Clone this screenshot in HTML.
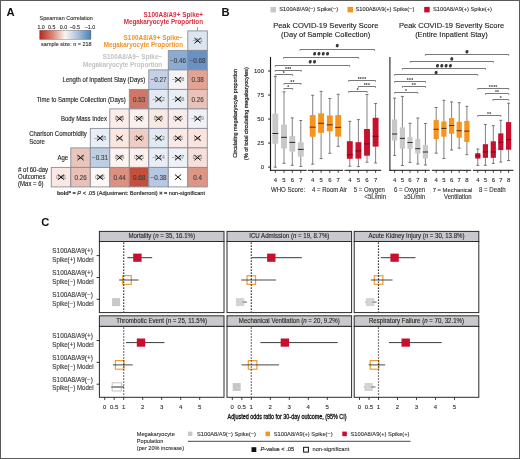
<!DOCTYPE html>
<html><head><meta charset="utf-8"><style>
html,body{margin:0;padding:0;background:#fff;}
body{width:520px;height:459px;overflow:hidden;}
svg{display:block;font-family:"Liberation Sans", sans-serif;will-change:transform;}
</style></head><body>
<svg width="520" height="459" viewBox="0 0 520 459">
<rect x="0" y="0" width="520" height="459" fill="#fff"/>
<rect x="0.5" y="0.5" width="519" height="458" fill="none" stroke="#5a5a5a" stroke-width="1" />
<text x="6.4" y="15.9" font-size="11.3" fill="#111" text-anchor="start" font-weight="bold" >A</text>
<text x="221.5" y="16.3" font-size="11.2" fill="#111" text-anchor="start" font-weight="bold" >B</text>
<text x="41.2" y="225.8" font-size="11.2" fill="#111" text-anchor="start" font-weight="bold" >C</text>
<text x="66.2" y="20.0" font-size="5.83" fill="#333" text-anchor="middle" font-weight="normal" stroke="#333" stroke-width="0.12"  textLength="53.32" lengthAdjust="spacingAndGlyphs">Spearman Correlation</text>
<text x="41.1" y="28.5" font-size="5.19" fill="#333" text-anchor="middle" font-weight="normal" stroke="#333" stroke-width="0.12"  textLength="7.37" lengthAdjust="spacingAndGlyphs">1.0</text>
<text x="51.75" y="28.5" font-size="5.19" fill="#333" text-anchor="middle" font-weight="normal" stroke="#333" stroke-width="0.12"  textLength="7.37" lengthAdjust="spacingAndGlyphs">0.5</text>
<text x="63.45" y="28.5" font-size="5.19" fill="#333" text-anchor="middle" font-weight="normal" stroke="#333" stroke-width="0.12"  textLength="7.37" lengthAdjust="spacingAndGlyphs">0.0</text>
<text x="74.75" y="28.5" font-size="5.19" fill="#333" text-anchor="middle" font-weight="normal" stroke="#333" stroke-width="0.12"  textLength="10.46" lengthAdjust="spacingAndGlyphs">−0.5</text>
<text x="90.0" y="28.5" font-size="5.19" fill="#333" text-anchor="middle" font-weight="normal" stroke="#333" stroke-width="0.12"  textLength="10.46" lengthAdjust="spacingAndGlyphs">−1.0</text>
<defs><linearGradient id="cb" x1="0" x2="1" y1="0" y2="0"><stop offset="0" stop-color="#b5281f"/><stop offset="0.25" stop-color="#db8775"/><stop offset="0.5" stop-color="#faf5f2"/><stop offset="0.75" stop-color="#a6bfdc"/><stop offset="1" stop-color="#4a80b8"/></linearGradient></defs>
<rect x="39.7" y="30.3" width="51.2" height="9.1" fill="url(#cb)" stroke="rgba(40,30,30,0.45)" stroke-width="0.6" />
<text x="66.4" y="46.3" font-size="5.89" fill="#333" text-anchor="middle" font-weight="normal" stroke="#333" stroke-width="0.12"  textLength="50.60" lengthAdjust="spacingAndGlyphs">sample size: n = 218</text>
<text x="203" y="16.8" font-size="6.85" fill="#db2c3e" text-anchor="end" font-weight="bold"  textLength="59.42" lengthAdjust="spacingAndGlyphs">S100A8/A9+ Spike+</text>
<text x="203" y="24.1" font-size="6.72" fill="#db2c3e" text-anchor="end" font-weight="bold"  textLength="79.22" lengthAdjust="spacingAndGlyphs">Megakaryocyte Proportion</text>
<text x="183" y="39.5" font-size="6.85" fill="#f39325" text-anchor="end" font-weight="bold"  textLength="59.42" lengthAdjust="spacingAndGlyphs">S100A8/A9+ Spike−</text>
<text x="183" y="46.9" font-size="6.72" fill="#f39325" text-anchor="end" font-weight="bold"  textLength="79.22" lengthAdjust="spacingAndGlyphs">Megakaryocyte Proportion</text>
<text x="162.2" y="58.6" font-size="6.85" fill="#c2c2c2" text-anchor="end" font-weight="bold"  textLength="59.42" lengthAdjust="spacingAndGlyphs">S100A8/A9− Spike−</text>
<text x="162.2" y="66.6" font-size="6.72" fill="#c2c2c2" text-anchor="end" font-weight="bold"  textLength="79.22" lengthAdjust="spacingAndGlyphs">Megakaryocyte Proportion</text>
<line x1="197.5" y1="27" x2="197.5" y2="30.5" stroke="#888" stroke-width="0.8" />
<text x="145.3" y="82.2" font-size="6.42" fill="#222" text-anchor="end" font-weight="normal" stroke="#222" stroke-width="0.12"  textLength="82.72" lengthAdjust="spacingAndGlyphs">Length of Inpatient Stay (Days)</text>
<text x="125.8" y="101.5" font-size="6.42" fill="#222" text-anchor="end" font-weight="normal" stroke="#222" stroke-width="0.12"  textLength="89.14" lengthAdjust="spacingAndGlyphs">Time to Sample Collection (Days)</text>
<text x="106.9" y="121.1" font-size="6.42" fill="#222" text-anchor="end" font-weight="normal" stroke="#222" stroke-width="0.12"  textLength="46.02" lengthAdjust="spacingAndGlyphs">Body Mass Index</text>
<text x="29.2" y="136.3" font-size="6.42" fill="#222" text-anchor="start" font-weight="normal" stroke="#222" stroke-width="0.12"  textLength="57.69" lengthAdjust="spacingAndGlyphs">Charlson Comorbidity</text>
<text x="29.2" y="144.0" font-size="6.42" fill="#222" text-anchor="start" font-weight="normal" stroke="#222" stroke-width="0.12"  textLength="15.67" lengthAdjust="spacingAndGlyphs">Score</text>
<text x="68.1" y="159.9" font-size="6.42" fill="#222" text-anchor="end" font-weight="normal" stroke="#222" stroke-width="0.12"  textLength="10.68" lengthAdjust="spacingAndGlyphs">Age</text>
<text x="18.1" y="171.7" font-size="6.42" fill="#222" text-anchor="start" font-weight="normal" stroke="#222" stroke-width="0.12"  textLength="30.02" lengthAdjust="spacingAndGlyphs"># of 60-day</text>
<text x="18.1" y="179.0" font-size="6.42" fill="#222" text-anchor="start" font-weight="normal" stroke="#222" stroke-width="0.12"  textLength="27.34" lengthAdjust="spacingAndGlyphs">Outcomes</text>
<text x="18.1" y="185.9" font-size="6.42" fill="#222" text-anchor="start" font-weight="normal" stroke="#222" stroke-width="0.12"  textLength="25.51" lengthAdjust="spacingAndGlyphs">(Max = 6)</text>
<rect x="187.8" y="30.9" width="19.5" height="19.5" fill="#dce5f0" stroke="#8a8d98" stroke-width="0.9" />
<rect x="168.3" y="50.4" width="19.5" height="19.5" fill="#8babd3" stroke="#8a8d98" stroke-width="0.9" />
<rect x="187.8" y="50.4" width="19.5" height="19.5" fill="#6991c3" stroke="#8a8d98" stroke-width="0.9" />
<rect x="148.8" y="69.9" width="19.5" height="19.5" fill="#c3d2e6" stroke="#8a8d98" stroke-width="0.9" />
<rect x="168.3" y="69.9" width="19.5" height="19.5" fill="#f4f2f4" stroke="#8a8d98" stroke-width="0.9" />
<rect x="187.8" y="69.9" width="19.5" height="19.5" fill="#e3a394" stroke="#8a8d98" stroke-width="0.9" />
<rect x="129.3" y="89.4" width="19.5" height="19.5" fill="#ce7767" stroke="#8a8d98" stroke-width="0.9" />
<rect x="148.8" y="89.4" width="19.5" height="19.5" fill="#e2e9f3" stroke="#8a8d98" stroke-width="0.9" />
<rect x="168.3" y="89.4" width="19.5" height="19.5" fill="#e9eef5" stroke="#8a8d98" stroke-width="0.9" />
<rect x="187.8" y="89.4" width="19.5" height="19.5" fill="#eac2b7" stroke="#8a8d98" stroke-width="0.9" />
<rect x="109.8" y="108.9" width="19.5" height="19.5" fill="#fbede9" stroke="#8a8d98" stroke-width="0.9" />
<rect x="129.3" y="108.9" width="19.5" height="19.5" fill="#fcf1ee" stroke="#8a8d98" stroke-width="0.9" />
<rect x="148.8" y="108.9" width="19.5" height="19.5" fill="#fae8e3" stroke="#8a8d98" stroke-width="0.9" />
<rect x="168.3" y="108.9" width="19.5" height="19.5" fill="#f9ecea" stroke="#8a8d98" stroke-width="0.9" />
<rect x="187.8" y="108.9" width="19.5" height="19.5" fill="#eff1f7" stroke="#8a8d98" stroke-width="0.9" />
<rect x="90.3" y="128.4" width="19.5" height="19.5" fill="#e9eef6" stroke="#8a8d98" stroke-width="0.9" />
<rect x="109.8" y="128.4" width="19.5" height="19.5" fill="#fbe6e0" stroke="#8a8d98" stroke-width="0.9" />
<rect x="129.3" y="128.4" width="19.5" height="19.5" fill="#f0cdc4" stroke="#8a8d98" stroke-width="0.9" />
<rect x="148.8" y="128.4" width="19.5" height="19.5" fill="#e1e9f3" stroke="#8a8d98" stroke-width="0.9" />
<rect x="168.3" y="128.4" width="19.5" height="19.5" fill="#fbe9e5" stroke="#8a8d98" stroke-width="0.9" />
<rect x="187.8" y="128.4" width="19.5" height="19.5" fill="#fae4de" stroke="#8a8d98" stroke-width="0.9" />
<rect x="70.8" y="147.9" width="19.5" height="19.5" fill="#eac5bc" stroke="#8a8d98" stroke-width="0.9" />
<rect x="90.3" y="147.9" width="19.5" height="19.5" fill="#becfe4" stroke="#8a8d98" stroke-width="0.9" />
<rect x="109.8" y="147.9" width="19.5" height="19.5" fill="#fdf4f2" stroke="#8a8d98" stroke-width="0.9" />
<rect x="129.3" y="147.9" width="19.5" height="19.5" fill="#fbf0ec" stroke="#8a8d98" stroke-width="0.9" />
<rect x="148.8" y="147.9" width="19.5" height="19.5" fill="#e9eef6" stroke="#8a8d98" stroke-width="0.9" />
<rect x="168.3" y="147.9" width="19.5" height="19.5" fill="#eef2f8" stroke="#8a8d98" stroke-width="0.9" />
<rect x="187.8" y="147.9" width="19.5" height="19.5" fill="#f8e0da" stroke="#8a8d98" stroke-width="0.9" />
<rect x="51.3" y="167.4" width="19.5" height="19.5" fill="#fbe8e4" stroke="#8a8d98" stroke-width="0.9" />
<rect x="70.8" y="167.4" width="19.5" height="19.5" fill="#eac1b6" stroke="#8a8d98" stroke-width="0.9" />
<rect x="90.3" y="167.4" width="19.5" height="19.5" fill="#fdf6f4" stroke="#8a8d98" stroke-width="0.9" />
<rect x="109.8" y="167.4" width="19.5" height="19.5" fill="#dd9080" stroke="#8a8d98" stroke-width="0.9" />
<rect x="129.3" y="167.4" width="19.5" height="19.5" fill="#c34f3d" stroke="#8a8d98" stroke-width="0.9" />
<rect x="148.8" y="167.4" width="19.5" height="19.5" fill="#b7c9e2" stroke="#8a8d98" stroke-width="0.9" />
<rect x="168.3" y="167.4" width="19.5" height="19.5" fill="#ffffff" stroke="#8a8d98" stroke-width="0.9" />
<rect x="187.8" y="167.4" width="19.5" height="19.5" fill="#de9684" stroke="#8a8d98" stroke-width="0.9" />
<text x="197.55" y="42.45" font-size="5.35" fill="#888" text-anchor="middle" font-weight="normal" stroke="#888" stroke-width="0.12"  textLength="9.87" lengthAdjust="spacingAndGlyphs">−0.1</text>
<line x1="194.45" y1="38.05" x2="200.65" y2="43.25" stroke="#111" stroke-width="1.0" />
<line x1="194.45" y1="43.25" x2="200.65" y2="38.05" stroke="#111" stroke-width="1.0" />
<text x="178.05" y="62.75" font-size="6.3" fill="#404040" text-anchor="middle" font-weight="normal" stroke="#404040" stroke-width="0.12" >−0.46</text>
<text x="197.55" y="62.75" font-size="6.3" fill="#404040" text-anchor="middle" font-weight="normal" stroke="#404040" stroke-width="0.12" >−0.68</text>
<text x="158.55" y="82.25" font-size="6.3" fill="#404040" text-anchor="middle" font-weight="normal" stroke="#404040" stroke-width="0.12" >−0.27</text>
<text x="178.05" y="81.45" font-size="5.35" fill="#888" text-anchor="middle" font-weight="normal" stroke="#888" stroke-width="0.12"  textLength="12.65" lengthAdjust="spacingAndGlyphs">−0.08</text>
<line x1="174.95" y1="77.05" x2="181.15" y2="82.25" stroke="#111" stroke-width="1.0" />
<line x1="174.95" y1="82.25" x2="181.15" y2="77.05" stroke="#111" stroke-width="1.0" />
<text x="197.55" y="82.25" font-size="6.3" fill="#404040" text-anchor="middle" font-weight="normal" stroke="#404040" stroke-width="0.12" >0.38</text>
<text x="139.05" y="101.75" font-size="6.3" fill="#404040" text-anchor="middle" font-weight="normal" stroke="#404040" stroke-width="0.12" >0.53</text>
<text x="158.55" y="100.95" font-size="5.35" fill="#888" text-anchor="middle" font-weight="normal" stroke="#888" stroke-width="0.12"  textLength="12.65" lengthAdjust="spacingAndGlyphs">−0.12</text>
<line x1="155.45" y1="96.55" x2="161.65" y2="101.75" stroke="#111" stroke-width="1.0" />
<line x1="155.45" y1="101.75" x2="161.65" y2="96.55" stroke="#111" stroke-width="1.0" />
<text x="178.05" y="100.95" font-size="5.35" fill="#888" text-anchor="middle" font-weight="normal" stroke="#888" stroke-width="0.12"  textLength="12.65" lengthAdjust="spacingAndGlyphs">−0.08</text>
<line x1="174.95" y1="96.55" x2="181.15" y2="101.75" stroke="#111" stroke-width="1.0" />
<line x1="174.95" y1="101.75" x2="181.15" y2="96.55" stroke="#111" stroke-width="1.0" />
<text x="197.55" y="101.75" font-size="6.3" fill="#404040" text-anchor="middle" font-weight="normal" stroke="#404040" stroke-width="0.12" >0.26</text>
<text x="119.55" y="120.45" font-size="5.35" fill="#888" text-anchor="middle" font-weight="normal" stroke="#888" stroke-width="0.12"  textLength="9.73" lengthAdjust="spacingAndGlyphs">0.06</text>
<line x1="116.45" y1="116.05" x2="122.65" y2="121.25" stroke="#111" stroke-width="1.0" />
<line x1="116.45" y1="121.25" x2="122.65" y2="116.05" stroke="#111" stroke-width="1.0" />
<text x="139.05" y="120.45" font-size="5.35" fill="#888" text-anchor="middle" font-weight="normal" stroke="#888" stroke-width="0.12"  textLength="9.73" lengthAdjust="spacingAndGlyphs">0.04</text>
<line x1="135.95" y1="116.05" x2="142.15" y2="121.25" stroke="#111" stroke-width="1.0" />
<line x1="135.95" y1="121.25" x2="142.15" y2="116.05" stroke="#111" stroke-width="1.0" />
<text x="158.55" y="120.45" font-size="5.35" fill="#888" text-anchor="middle" font-weight="normal" stroke="#888" stroke-width="0.12"  textLength="9.73" lengthAdjust="spacingAndGlyphs">0.09</text>
<line x1="155.45" y1="116.05" x2="161.65" y2="121.25" stroke="#111" stroke-width="1.0" />
<line x1="155.45" y1="121.25" x2="161.65" y2="116.05" stroke="#111" stroke-width="1.0" />
<text x="178.05" y="120.45" font-size="5.35" fill="#888" text-anchor="middle" font-weight="normal" stroke="#888" stroke-width="0.12"  textLength="9.73" lengthAdjust="spacingAndGlyphs">0.06</text>
<line x1="174.95" y1="116.05" x2="181.15" y2="121.25" stroke="#111" stroke-width="1.0" />
<line x1="174.95" y1="121.25" x2="181.15" y2="116.05" stroke="#111" stroke-width="1.0" />
<text x="197.55" y="120.45" font-size="5.35" fill="#888" text-anchor="middle" font-weight="normal" stroke="#888" stroke-width="0.12"  textLength="12.65" lengthAdjust="spacingAndGlyphs">−0.09</text>
<line x1="194.45" y1="116.05" x2="200.65" y2="121.25" stroke="#111" stroke-width="1.0" />
<line x1="194.45" y1="121.25" x2="200.65" y2="116.05" stroke="#111" stroke-width="1.0" />
<text x="100.05" y="139.95" font-size="5.35" fill="#888" text-anchor="middle" font-weight="normal" stroke="#888" stroke-width="0.12"  textLength="12.65" lengthAdjust="spacingAndGlyphs">−0.05</text>
<line x1="96.95" y1="135.55" x2="103.15" y2="140.75" stroke="#111" stroke-width="1.0" />
<line x1="96.95" y1="140.75" x2="103.15" y2="135.55" stroke="#111" stroke-width="1.0" />
<text x="119.55" y="139.95" font-size="5.35" fill="#888" text-anchor="middle" font-weight="normal" stroke="#888" stroke-width="0.12"  textLength="6.95" lengthAdjust="spacingAndGlyphs">0.1</text>
<line x1="116.45" y1="135.55" x2="122.65" y2="140.75" stroke="#111" stroke-width="1.0" />
<line x1="116.45" y1="140.75" x2="122.65" y2="135.55" stroke="#111" stroke-width="1.0" />
<text x="139.05" y="139.95" font-size="5.35" fill="#888" text-anchor="middle" font-weight="normal" stroke="#888" stroke-width="0.12"  textLength="9.73" lengthAdjust="spacingAndGlyphs">0.19</text>
<line x1="135.95" y1="135.55" x2="142.15" y2="140.75" stroke="#111" stroke-width="1.0" />
<line x1="135.95" y1="140.75" x2="142.15" y2="135.55" stroke="#111" stroke-width="1.0" />
<text x="158.55" y="139.95" font-size="5.35" fill="#888" text-anchor="middle" font-weight="normal" stroke="#888" stroke-width="0.12"  textLength="12.65" lengthAdjust="spacingAndGlyphs">−0.12</text>
<line x1="155.45" y1="135.55" x2="161.65" y2="140.75" stroke="#111" stroke-width="1.0" />
<line x1="155.45" y1="140.75" x2="161.65" y2="135.55" stroke="#111" stroke-width="1.0" />
<text x="178.05" y="139.95" font-size="5.35" fill="#888" text-anchor="middle" font-weight="normal" stroke="#888" stroke-width="0.12"  textLength="9.73" lengthAdjust="spacingAndGlyphs">0.08</text>
<line x1="174.95" y1="135.55" x2="181.15" y2="140.75" stroke="#111" stroke-width="1.0" />
<line x1="174.95" y1="140.75" x2="181.15" y2="135.55" stroke="#111" stroke-width="1.0" />
<text x="197.55" y="139.95" font-size="5.35" fill="#888" text-anchor="middle" font-weight="normal" stroke="#888" stroke-width="0.12"  textLength="6.95" lengthAdjust="spacingAndGlyphs">0.1</text>
<line x1="194.45" y1="135.55" x2="200.65" y2="140.75" stroke="#111" stroke-width="1.0" />
<line x1="194.45" y1="140.75" x2="200.65" y2="135.55" stroke="#111" stroke-width="1.0" />
<text x="80.55" y="159.45" font-size="5.35" fill="#888" text-anchor="middle" font-weight="normal" stroke="#888" stroke-width="0.12"  textLength="6.95" lengthAdjust="spacingAndGlyphs">0.2</text>
<line x1="77.45" y1="155.05" x2="83.65" y2="160.25" stroke="#111" stroke-width="1.0" />
<line x1="77.45" y1="160.25" x2="83.65" y2="155.05" stroke="#111" stroke-width="1.0" />
<text x="100.05" y="160.25" font-size="6.3" fill="#404040" text-anchor="middle" font-weight="normal" stroke="#404040" stroke-width="0.12" >−0.31</text>
<text x="119.55" y="159.45" font-size="5.35" fill="#888" text-anchor="middle" font-weight="normal" stroke="#888" stroke-width="0.12"  textLength="9.73" lengthAdjust="spacingAndGlyphs">0.04</text>
<line x1="116.45" y1="155.05" x2="122.65" y2="160.25" stroke="#111" stroke-width="1.0" />
<line x1="116.45" y1="160.25" x2="122.65" y2="155.05" stroke="#111" stroke-width="1.0" />
<text x="139.05" y="159.45" font-size="5.35" fill="#888" text-anchor="middle" font-weight="normal" stroke="#888" stroke-width="0.12"  textLength="9.73" lengthAdjust="spacingAndGlyphs">0.05</text>
<line x1="135.95" y1="155.05" x2="142.15" y2="160.25" stroke="#111" stroke-width="1.0" />
<line x1="135.95" y1="160.25" x2="142.15" y2="155.05" stroke="#111" stroke-width="1.0" />
<text x="158.55" y="159.45" font-size="5.35" fill="#888" text-anchor="middle" font-weight="normal" stroke="#888" stroke-width="0.12"  textLength="12.65" lengthAdjust="spacingAndGlyphs">−0.14</text>
<line x1="155.45" y1="155.05" x2="161.65" y2="160.25" stroke="#111" stroke-width="1.0" />
<line x1="155.45" y1="160.25" x2="161.65" y2="155.05" stroke="#111" stroke-width="1.0" />
<text x="178.05" y="159.45" font-size="5.35" fill="#888" text-anchor="middle" font-weight="normal" stroke="#888" stroke-width="0.12"  textLength="12.65" lengthAdjust="spacingAndGlyphs">−0.07</text>
<line x1="174.95" y1="155.05" x2="181.15" y2="160.25" stroke="#111" stroke-width="1.0" />
<line x1="174.95" y1="160.25" x2="181.15" y2="155.05" stroke="#111" stroke-width="1.0" />
<text x="197.55" y="159.45" font-size="5.35" fill="#888" text-anchor="middle" font-weight="normal" stroke="#888" stroke-width="0.12"  textLength="9.73" lengthAdjust="spacingAndGlyphs">0.13</text>
<line x1="194.45" y1="155.05" x2="200.65" y2="160.25" stroke="#111" stroke-width="1.0" />
<line x1="194.45" y1="160.25" x2="200.65" y2="155.05" stroke="#111" stroke-width="1.0" />
<text x="61.05" y="178.95" font-size="5.35" fill="#888" text-anchor="middle" font-weight="normal" stroke="#888" stroke-width="0.12"  textLength="9.73" lengthAdjust="spacingAndGlyphs">0.06</text>
<line x1="57.95" y1="174.55" x2="64.15" y2="179.75" stroke="#111" stroke-width="1.0" />
<line x1="57.95" y1="179.75" x2="64.15" y2="174.55" stroke="#111" stroke-width="1.0" />
<text x="80.55" y="179.75" font-size="6.3" fill="#404040" text-anchor="middle" font-weight="normal" stroke="#404040" stroke-width="0.12" >0.26</text>
<text x="100.05" y="178.95" font-size="5.35" fill="#888" text-anchor="middle" font-weight="normal" stroke="#888" stroke-width="0.12"  textLength="9.73" lengthAdjust="spacingAndGlyphs">0.06</text>
<line x1="96.95" y1="174.55" x2="103.15" y2="179.75" stroke="#111" stroke-width="1.0" />
<line x1="96.95" y1="179.75" x2="103.15" y2="174.55" stroke="#111" stroke-width="1.0" />
<text x="119.55" y="179.75" font-size="6.3" fill="#404040" text-anchor="middle" font-weight="normal" stroke="#404040" stroke-width="0.12" >0.44</text>
<text x="139.05" y="179.75" font-size="6.3" fill="#404040" text-anchor="middle" font-weight="normal" stroke="#404040" stroke-width="0.12" >0.68</text>
<text x="158.55" y="179.75" font-size="6.3" fill="#404040" text-anchor="middle" font-weight="normal" stroke="#404040" stroke-width="0.12" >−0.38</text>
<line x1="174.95" y1="174.55" x2="181.15" y2="179.75" stroke="#111" stroke-width="1.0" />
<line x1="174.95" y1="179.75" x2="181.15" y2="174.55" stroke="#111" stroke-width="1.0" />
<text x="197.55" y="179.75" font-size="6.3" fill="#404040" text-anchor="middle" font-weight="normal" stroke="#404040" stroke-width="0.12" >0.4</text>
<text x="56.9" y="195.0" font-size="5.62" fill="#333" stroke="#333" stroke-width="0.2"><tspan font-weight="bold">bold*</tspan> = <tspan font-style="italic">P</tspan> &lt; .05 (Adjustment: Bonferroni) <tspan font-weight="bold">×</tspan> = non-significant</text>
<rect x="270.5" y="6.9" width="5.5" height="5.5" fill="#c8c8c8" stroke="none" stroke-width="1" />
<text x="279.3" y="11.2" font-size="6.1" fill="#333" text-anchor="start" font-weight="normal" stroke="#333" stroke-width="0.12"  textLength="58.93" lengthAdjust="spacingAndGlyphs">S100A8/A9(−) Spike(−)</text>
<rect x="347.5" y="6.9" width="5.5" height="5.5" fill="#f7941d" stroke="none" stroke-width="1" />
<text x="355.5" y="11.2" font-size="6.1" fill="#333" text-anchor="start" font-weight="normal" stroke="#333" stroke-width="0.12"  textLength="58.93" lengthAdjust="spacingAndGlyphs">S100A8/A9(+) Spike(−)</text>
<rect x="424.2" y="6.9" width="5.5" height="5.5" fill="#c8102e" stroke="none" stroke-width="1" />
<text x="433.0" y="11.2" font-size="6.1" fill="#333" text-anchor="start" font-weight="normal" stroke="#333" stroke-width="0.12"  textLength="58.93" lengthAdjust="spacingAndGlyphs">S100A8/A9(+) Spike(+)</text>
<text x="325.8" y="28.1" font-size="8.08" fill="#222" text-anchor="middle" font-weight="normal" stroke="#222" stroke-width="0.12"  textLength="105.32" lengthAdjust="spacingAndGlyphs">Peak COVID-19 Severity Score</text>
<text x="325.7" y="37.1" font-size="8.03" fill="#222" text-anchor="middle" font-weight="normal" stroke="#222" stroke-width="0.12"  textLength="89.20" lengthAdjust="spacingAndGlyphs">(Day of Sample Collection)</text>
<text x="451.6" y="28.1" font-size="8.08" fill="#222" text-anchor="middle" font-weight="normal" stroke="#222" stroke-width="0.12"  textLength="105.32" lengthAdjust="spacingAndGlyphs">Peak COVID-19 Severity Score</text>
<text x="451.4" y="37.1" font-size="8.03" fill="#222" text-anchor="middle" font-weight="normal" stroke="#222" stroke-width="0.12"  textLength="72.54" lengthAdjust="spacingAndGlyphs">(Entire Inpatient Stay)</text>
<text transform="translate(237.2,113.4) rotate(-90)" font-size="5.35" fill="#2a2a2a" stroke="#2a2a2a" stroke-width="0.22" text-anchor="middle">Circulating megakaryocyte proportion</text>
<text transform="translate(247.6,113.6) rotate(-90)" font-size="5.4" fill="#2a2a2a" stroke="#2a2a2a" stroke-width="0.22" text-anchor="middle">(% of total circulating megakaryocytes)</text>
<line x1="270.5" y1="56.9" x2="270.5" y2="170.8" stroke="#1a1a1a" stroke-width="1.15" />
<line x1="268" y1="167.1" x2="270.5" y2="167.1" stroke="#111" stroke-width="0.9" />
<text x="264.0" y="169.1" font-size="5.47" fill="#333" text-anchor="end" font-weight="normal" stroke="#333" stroke-width="0.12"  textLength="3.31" lengthAdjust="spacingAndGlyphs">0</text>
<line x1="268" y1="143.07" x2="270.5" y2="143.07" stroke="#111" stroke-width="0.9" />
<text x="264.0" y="145.07" font-size="5.47" fill="#333" text-anchor="end" font-weight="normal" stroke="#333" stroke-width="0.12"  textLength="6.62" lengthAdjust="spacingAndGlyphs">25</text>
<line x1="268" y1="119.05" x2="270.5" y2="119.05" stroke="#111" stroke-width="0.9" />
<text x="264.0" y="121.05" font-size="5.47" fill="#333" text-anchor="end" font-weight="normal" stroke="#333" stroke-width="0.12"  textLength="6.62" lengthAdjust="spacingAndGlyphs">50</text>
<line x1="268" y1="95.02" x2="270.5" y2="95.02" stroke="#111" stroke-width="0.9" />
<text x="264.0" y="97.02" font-size="5.47" fill="#333" text-anchor="end" font-weight="normal" stroke="#333" stroke-width="0.12"  textLength="6.62" lengthAdjust="spacingAndGlyphs">75</text>
<line x1="268" y1="71.0" x2="270.5" y2="71.0" stroke="#111" stroke-width="0.9" />
<text x="264.0" y="73.0" font-size="5.47" fill="#333" text-anchor="end" font-weight="normal" stroke="#333" stroke-width="0.12"  textLength="9.93" lengthAdjust="spacingAndGlyphs">100</text>
<line x1="389.9" y1="56.9" x2="389.9" y2="170.8" stroke="#2a2a2a" stroke-width="1.15" />
<line x1="270.0" y1="170.3" x2="306.6" y2="170.3" stroke="#111" stroke-width="1" />
<line x1="307.8" y1="170.3" x2="343.2" y2="170.3" stroke="#111" stroke-width="1" />
<line x1="344.5" y1="170.3" x2="381.2" y2="170.3" stroke="#111" stroke-width="1" />
<line x1="389.4" y1="170.3" x2="429.8" y2="170.3" stroke="#111" stroke-width="1" />
<line x1="431.8" y1="170.3" x2="471.2" y2="170.3" stroke="#111" stroke-width="1" />
<line x1="472.9" y1="170.3" x2="513.4" y2="170.3" stroke="#111" stroke-width="1" />
<line x1="275.3" y1="76.6" x2="275.3" y2="167.2" stroke="#7c7c7c" stroke-width="0.95" />
<line x1="273.8" y1="76.6" x2="276.8" y2="76.6" stroke="#555" stroke-width="0.8" />
<line x1="273.8" y1="167.2" x2="276.8" y2="167.2" stroke="#555" stroke-width="0.8" />
<rect x="272.35" y="113.7" width="5.9" height="30.0" fill="#c8c8c8" stroke="none" stroke-width="1" />
<line x1="272.35" y1="133.5" x2="278.25" y2="133.5" stroke="#2a2a2a" stroke-width="1.0" />
<line x1="284.0" y1="91.8" x2="284.0" y2="163.3" stroke="#7c7c7c" stroke-width="0.95" />
<line x1="282.5" y1="91.8" x2="285.5" y2="91.8" stroke="#555" stroke-width="0.8" />
<line x1="282.5" y1="163.3" x2="285.5" y2="163.3" stroke="#555" stroke-width="0.8" />
<rect x="281.05" y="124.6" width="5.9" height="23.9" fill="#c8c8c8" stroke="none" stroke-width="1" />
<line x1="281.05" y1="137.3" x2="286.95" y2="137.3" stroke="#2a2a2a" stroke-width="1.0" />
<line x1="292.3" y1="117.9" x2="292.3" y2="165.3" stroke="#7c7c7c" stroke-width="0.95" />
<line x1="290.8" y1="117.9" x2="293.8" y2="117.9" stroke="#555" stroke-width="0.8" />
<line x1="290.8" y1="165.3" x2="293.8" y2="165.3" stroke="#555" stroke-width="0.8" />
<rect x="289.35" y="136.1" width="5.9" height="15.5" fill="#c8c8c8" stroke="none" stroke-width="1" />
<line x1="289.35" y1="142.4" x2="295.25" y2="142.4" stroke="#2a2a2a" stroke-width="1.0" />
<line x1="300.8" y1="120.5" x2="300.8" y2="166.4" stroke="#7c7c7c" stroke-width="0.95" />
<line x1="299.3" y1="120.5" x2="302.3" y2="120.5" stroke="#555" stroke-width="0.8" />
<line x1="299.3" y1="166.4" x2="302.3" y2="166.4" stroke="#555" stroke-width="0.8" />
<rect x="297.85" y="142.4" width="5.9" height="14.2" fill="#c8c8c8" stroke="none" stroke-width="1" />
<line x1="297.85" y1="149.4" x2="303.75" y2="149.4" stroke="#2a2a2a" stroke-width="1.0" />
<line x1="312.7" y1="95.3" x2="312.7" y2="164.2" stroke="#7c7c7c" stroke-width="0.95" />
<line x1="311.2" y1="95.3" x2="314.2" y2="95.3" stroke="#555" stroke-width="0.8" />
<line x1="311.2" y1="164.2" x2="314.2" y2="164.2" stroke="#555" stroke-width="0.8" />
<rect x="309.75" y="115.1" width="5.9" height="21.7" fill="#f7941d" stroke="none" stroke-width="1" />
<line x1="309.75" y1="127.2" x2="315.65" y2="127.2" stroke="#5a2a00" stroke-width="1.0" />
<line x1="321.1" y1="91.4" x2="321.1" y2="158.6" stroke="#7c7c7c" stroke-width="0.95" />
<line x1="319.6" y1="91.4" x2="322.6" y2="91.4" stroke="#555" stroke-width="0.8" />
<line x1="319.6" y1="158.6" x2="322.6" y2="158.6" stroke="#555" stroke-width="0.8" />
<rect x="318.15" y="113.3" width="5.9" height="19.6" fill="#f7941d" stroke="none" stroke-width="1" />
<line x1="318.15" y1="123.3" x2="324.05" y2="123.3" stroke="#5a2a00" stroke-width="1.0" />
<line x1="329.8" y1="98.5" x2="329.8" y2="153.3" stroke="#7c7c7c" stroke-width="0.95" />
<line x1="328.3" y1="98.5" x2="331.3" y2="98.5" stroke="#555" stroke-width="0.8" />
<line x1="328.3" y1="153.3" x2="331.3" y2="153.3" stroke="#555" stroke-width="0.8" />
<rect x="326.85" y="115.5" width="5.9" height="15.9" fill="#f7941d" stroke="none" stroke-width="1" />
<line x1="326.85" y1="124.8" x2="332.75" y2="124.8" stroke="#5a2a00" stroke-width="1.0" />
<line x1="338.2" y1="94.3" x2="338.2" y2="146.3" stroke="#7c7c7c" stroke-width="0.95" />
<line x1="336.7" y1="94.3" x2="339.7" y2="94.3" stroke="#555" stroke-width="0.8" />
<line x1="336.7" y1="146.3" x2="339.7" y2="146.3" stroke="#555" stroke-width="0.8" />
<rect x="335.25" y="115.1" width="5.9" height="21.5" fill="#f7941d" stroke="none" stroke-width="1" />
<line x1="335.25" y1="127.4" x2="341.15" y2="127.4" stroke="#5a2a00" stroke-width="1.0" />
<line x1="349.8" y1="121.3" x2="349.8" y2="166.2" stroke="#7c7c7c" stroke-width="0.95" />
<line x1="348.3" y1="121.3" x2="351.3" y2="121.3" stroke="#555" stroke-width="0.8" />
<line x1="348.3" y1="166.2" x2="351.3" y2="166.2" stroke="#555" stroke-width="0.8" />
<rect x="346.85" y="141.2" width="5.9" height="17.6" fill="#c8102e" stroke="none" stroke-width="1" />
<line x1="346.85" y1="154.8" x2="352.75" y2="154.8" stroke="#7a0614" stroke-width="1.0" />
<line x1="358.4" y1="119.6" x2="358.4" y2="166.6" stroke="#7c7c7c" stroke-width="0.95" />
<line x1="356.9" y1="119.6" x2="359.9" y2="119.6" stroke="#555" stroke-width="0.8" />
<line x1="356.9" y1="166.6" x2="359.9" y2="166.6" stroke="#555" stroke-width="0.8" />
<rect x="355.45" y="142.2" width="5.9" height="16.4" fill="#c8102e" stroke="none" stroke-width="1" />
<line x1="355.45" y1="150.9" x2="361.35" y2="150.9" stroke="#7a0614" stroke-width="1.0" />
<line x1="367.0" y1="94.5" x2="367.0" y2="162.2" stroke="#7c7c7c" stroke-width="0.95" />
<line x1="365.5" y1="94.5" x2="368.5" y2="94.5" stroke="#555" stroke-width="0.8" />
<line x1="365.5" y1="162.2" x2="368.5" y2="162.2" stroke="#555" stroke-width="0.8" />
<rect x="364.05" y="129.0" width="5.9" height="26.7" fill="#c8102e" stroke="none" stroke-width="1" />
<line x1="364.05" y1="143.9" x2="369.95" y2="143.9" stroke="#7a0614" stroke-width="1.0" />
<line x1="375.6" y1="103.5" x2="375.6" y2="163.0" stroke="#7c7c7c" stroke-width="0.95" />
<line x1="374.1" y1="103.5" x2="377.1" y2="103.5" stroke="#555" stroke-width="0.8" />
<line x1="374.1" y1="163.0" x2="377.1" y2="163.0" stroke="#555" stroke-width="0.8" />
<rect x="372.65" y="117.8" width="5.9" height="28.8" fill="#c8102e" stroke="none" stroke-width="1" />
<line x1="372.65" y1="136.3" x2="378.55" y2="136.3" stroke="#7a0614" stroke-width="1.0" />
<line x1="394.6" y1="98.1" x2="394.6" y2="155.4" stroke="#7c7c7c" stroke-width="0.95" />
<line x1="393.1" y1="98.1" x2="396.1" y2="98.1" stroke="#555" stroke-width="0.8" />
<line x1="393.1" y1="155.4" x2="396.1" y2="155.4" stroke="#555" stroke-width="0.8" />
<rect x="392.0" y="119.4" width="5.2" height="21.1" fill="#c8c8c8" stroke="none" stroke-width="1" />
<line x1="392.0" y1="134.0" x2="397.2" y2="134.0" stroke="#2a2a2a" stroke-width="1.0" />
<line x1="402.4" y1="96.4" x2="402.4" y2="165.5" stroke="#7c7c7c" stroke-width="0.95" />
<line x1="400.9" y1="96.4" x2="403.9" y2="96.4" stroke="#555" stroke-width="0.8" />
<line x1="400.9" y1="165.5" x2="403.9" y2="165.5" stroke="#555" stroke-width="0.8" />
<rect x="399.8" y="127.4" width="5.2" height="21.3" fill="#c8c8c8" stroke="none" stroke-width="1" />
<line x1="399.8" y1="138.4" x2="405.0" y2="138.4" stroke="#2a2a2a" stroke-width="1.0" />
<line x1="410.0" y1="123.3" x2="410.0" y2="162.4" stroke="#7c7c7c" stroke-width="0.95" />
<line x1="408.5" y1="123.3" x2="411.5" y2="123.3" stroke="#555" stroke-width="0.8" />
<line x1="408.5" y1="162.4" x2="411.5" y2="162.4" stroke="#555" stroke-width="0.8" />
<rect x="407.4" y="137.2" width="5.2" height="11.5" fill="#c8c8c8" stroke="none" stroke-width="1" />
<line x1="407.4" y1="142.5" x2="412.6" y2="142.5" stroke="#2a2a2a" stroke-width="1.0" />
<line x1="417.8" y1="118.0" x2="417.8" y2="164.0" stroke="#7c7c7c" stroke-width="0.95" />
<line x1="416.3" y1="118.0" x2="419.3" y2="118.0" stroke="#555" stroke-width="0.8" />
<line x1="416.3" y1="164.0" x2="419.3" y2="164.0" stroke="#555" stroke-width="0.8" />
<rect x="415.2" y="139.1" width="5.2" height="14.4" fill="#c8c8c8" stroke="none" stroke-width="1" />
<line x1="415.2" y1="148.7" x2="420.4" y2="148.7" stroke="#2a2a2a" stroke-width="1.0" />
<line x1="425.4" y1="123.5" x2="425.4" y2="165.0" stroke="#7c7c7c" stroke-width="0.95" />
<line x1="423.9" y1="123.5" x2="426.9" y2="123.5" stroke="#555" stroke-width="0.8" />
<line x1="423.9" y1="165.0" x2="426.9" y2="165.0" stroke="#555" stroke-width="0.8" />
<rect x="422.8" y="144.9" width="5.2" height="13.7" fill="#c8c8c8" stroke="none" stroke-width="1" />
<line x1="422.8" y1="152.0" x2="428.0" y2="152.0" stroke="#2a2a2a" stroke-width="1.0" />
<line x1="436.2" y1="107.5" x2="436.2" y2="153.2" stroke="#7c7c7c" stroke-width="0.95" />
<line x1="434.7" y1="107.5" x2="437.7" y2="107.5" stroke="#555" stroke-width="0.8" />
<line x1="434.7" y1="153.2" x2="437.7" y2="153.2" stroke="#555" stroke-width="0.8" />
<rect x="433.6" y="120.1" width="5.2" height="19.0" fill="#f7941d" stroke="none" stroke-width="1" />
<line x1="433.6" y1="129.3" x2="438.8" y2="129.3" stroke="#5a2a00" stroke-width="1.0" />
<line x1="443.9" y1="100.3" x2="443.9" y2="158.5" stroke="#7c7c7c" stroke-width="0.95" />
<line x1="442.4" y1="100.3" x2="445.4" y2="100.3" stroke="#555" stroke-width="0.8" />
<line x1="442.4" y1="158.5" x2="445.4" y2="158.5" stroke="#555" stroke-width="0.8" />
<rect x="441.3" y="121.4" width="5.2" height="15.3" fill="#f7941d" stroke="none" stroke-width="1" />
<line x1="441.3" y1="128.4" x2="446.5" y2="128.4" stroke="#5a2a00" stroke-width="1.0" />
<line x1="451.6" y1="101.9" x2="451.6" y2="150.0" stroke="#7c7c7c" stroke-width="0.95" />
<line x1="450.1" y1="101.9" x2="453.1" y2="101.9" stroke="#555" stroke-width="0.8" />
<line x1="450.1" y1="150.0" x2="453.1" y2="150.0" stroke="#555" stroke-width="0.8" />
<rect x="449.0" y="118.0" width="5.2" height="15.7" fill="#f7941d" stroke="none" stroke-width="1" />
<line x1="449.0" y1="125.5" x2="454.2" y2="125.5" stroke="#5a2a00" stroke-width="1.0" />
<line x1="459.2" y1="102.7" x2="459.2" y2="148.2" stroke="#7c7c7c" stroke-width="0.95" />
<line x1="457.7" y1="102.7" x2="460.7" y2="102.7" stroke="#555" stroke-width="0.8" />
<line x1="457.7" y1="148.2" x2="460.7" y2="148.2" stroke="#555" stroke-width="0.8" />
<rect x="456.6" y="121.8" width="5.2" height="15.9" fill="#f7941d" stroke="none" stroke-width="1" />
<line x1="456.6" y1="130.7" x2="461.8" y2="130.7" stroke="#5a2a00" stroke-width="1.0" />
<line x1="466.9" y1="106.3" x2="466.9" y2="154.7" stroke="#7c7c7c" stroke-width="0.95" />
<line x1="465.4" y1="106.3" x2="468.4" y2="106.3" stroke="#555" stroke-width="0.8" />
<line x1="465.4" y1="154.7" x2="468.4" y2="154.7" stroke="#555" stroke-width="0.8" />
<rect x="464.3" y="120.9" width="5.2" height="21.1" fill="#f7941d" stroke="none" stroke-width="1" />
<line x1="464.3" y1="131.1" x2="469.5" y2="131.1" stroke="#5a2a00" stroke-width="1.0" />
<line x1="477.8" y1="149.0" x2="477.8" y2="165.3" stroke="#7c7c7c" stroke-width="0.95" />
<line x1="476.3" y1="149.0" x2="479.3" y2="149.0" stroke="#555" stroke-width="0.8" />
<line x1="476.3" y1="165.3" x2="479.3" y2="165.3" stroke="#555" stroke-width="0.8" />
<rect x="475.2" y="153.2" width="5.2" height="5.4" fill="#c8102e" stroke="none" stroke-width="1" />
<line x1="475.2" y1="155.9" x2="480.4" y2="155.9" stroke="#7a0614" stroke-width="1.0" />
<line x1="485.4" y1="124.4" x2="485.4" y2="165.3" stroke="#7c7c7c" stroke-width="0.95" />
<line x1="483.9" y1="124.4" x2="486.9" y2="124.4" stroke="#555" stroke-width="0.8" />
<line x1="483.9" y1="165.3" x2="486.9" y2="165.3" stroke="#555" stroke-width="0.8" />
<rect x="482.8" y="144.2" width="5.2" height="13.6" fill="#c8102e" stroke="none" stroke-width="1" />
<line x1="482.8" y1="151.9" x2="488.0" y2="151.9" stroke="#7a0614" stroke-width="1.0" />
<line x1="493.3" y1="125.7" x2="493.3" y2="163.4" stroke="#7c7c7c" stroke-width="0.95" />
<line x1="491.8" y1="125.7" x2="494.8" y2="125.7" stroke="#555" stroke-width="0.8" />
<line x1="491.8" y1="163.4" x2="494.8" y2="163.4" stroke="#555" stroke-width="0.8" />
<rect x="490.7" y="141.3" width="5.2" height="16.5" fill="#c8102e" stroke="none" stroke-width="1" />
<line x1="490.7" y1="152.0" x2="495.9" y2="152.0" stroke="#7a0614" stroke-width="1.0" />
<line x1="500.8" y1="120.3" x2="500.8" y2="162.1" stroke="#7c7c7c" stroke-width="0.95" />
<line x1="499.3" y1="120.3" x2="502.3" y2="120.3" stroke="#555" stroke-width="0.8" />
<line x1="499.3" y1="162.1" x2="502.3" y2="162.1" stroke="#555" stroke-width="0.8" />
<rect x="498.2" y="133.4" width="5.2" height="16.7" fill="#c8102e" stroke="none" stroke-width="1" />
<line x1="498.2" y1="142.3" x2="503.4" y2="142.3" stroke="#7a0614" stroke-width="1.0" />
<line x1="508.6" y1="103.2" x2="508.6" y2="160.5" stroke="#7c7c7c" stroke-width="0.95" />
<line x1="507.1" y1="103.2" x2="510.1" y2="103.2" stroke="#555" stroke-width="0.8" />
<line x1="507.1" y1="160.5" x2="510.1" y2="160.5" stroke="#555" stroke-width="0.8" />
<rect x="506.0" y="122.1" width="5.2" height="27.6" fill="#c8102e" stroke="none" stroke-width="1" />
<line x1="506.0" y1="139.6" x2="511.2" y2="139.6" stroke="#7a0614" stroke-width="1.0" />
<line x1="275.3" y1="170.3" x2="275.3" y2="172.8" stroke="#111" stroke-width="0.8" />
<text x="275.3" y="181.5" font-size="5.24" fill="#333" text-anchor="middle" font-weight="normal" stroke="#333" stroke-width="0.12"  textLength="3.31" lengthAdjust="spacingAndGlyphs">4</text>
<line x1="284.0" y1="170.3" x2="284.0" y2="172.8" stroke="#111" stroke-width="0.8" />
<text x="284.0" y="181.5" font-size="5.24" fill="#333" text-anchor="middle" font-weight="normal" stroke="#333" stroke-width="0.12"  textLength="3.31" lengthAdjust="spacingAndGlyphs">5</text>
<line x1="292.3" y1="170.3" x2="292.3" y2="172.8" stroke="#111" stroke-width="0.8" />
<text x="292.3" y="181.5" font-size="5.24" fill="#333" text-anchor="middle" font-weight="normal" stroke="#333" stroke-width="0.12"  textLength="3.31" lengthAdjust="spacingAndGlyphs">6</text>
<line x1="300.8" y1="170.3" x2="300.8" y2="172.8" stroke="#111" stroke-width="0.8" />
<text x="300.8" y="181.5" font-size="5.24" fill="#333" text-anchor="middle" font-weight="normal" stroke="#333" stroke-width="0.12"  textLength="3.31" lengthAdjust="spacingAndGlyphs">7</text>
<line x1="312.7" y1="170.3" x2="312.7" y2="172.8" stroke="#111" stroke-width="0.8" />
<text x="312.7" y="181.5" font-size="5.24" fill="#333" text-anchor="middle" font-weight="normal" stroke="#333" stroke-width="0.12"  textLength="3.31" lengthAdjust="spacingAndGlyphs">4</text>
<line x1="321.1" y1="170.3" x2="321.1" y2="172.8" stroke="#111" stroke-width="0.8" />
<text x="321.1" y="181.5" font-size="5.24" fill="#333" text-anchor="middle" font-weight="normal" stroke="#333" stroke-width="0.12"  textLength="3.31" lengthAdjust="spacingAndGlyphs">5</text>
<line x1="329.8" y1="170.3" x2="329.8" y2="172.8" stroke="#111" stroke-width="0.8" />
<text x="329.8" y="181.5" font-size="5.24" fill="#333" text-anchor="middle" font-weight="normal" stroke="#333" stroke-width="0.12"  textLength="3.31" lengthAdjust="spacingAndGlyphs">6</text>
<line x1="338.2" y1="170.3" x2="338.2" y2="172.8" stroke="#111" stroke-width="0.8" />
<text x="338.2" y="181.5" font-size="5.24" fill="#333" text-anchor="middle" font-weight="normal" stroke="#333" stroke-width="0.12"  textLength="3.31" lengthAdjust="spacingAndGlyphs">7</text>
<line x1="349.8" y1="170.3" x2="349.8" y2="172.8" stroke="#111" stroke-width="0.8" />
<text x="349.8" y="181.5" font-size="5.24" fill="#333" text-anchor="middle" font-weight="normal" stroke="#333" stroke-width="0.12"  textLength="3.31" lengthAdjust="spacingAndGlyphs">4</text>
<line x1="358.4" y1="170.3" x2="358.4" y2="172.8" stroke="#111" stroke-width="0.8" />
<text x="358.4" y="181.5" font-size="5.24" fill="#333" text-anchor="middle" font-weight="normal" stroke="#333" stroke-width="0.12"  textLength="3.31" lengthAdjust="spacingAndGlyphs">5</text>
<line x1="367.0" y1="170.3" x2="367.0" y2="172.8" stroke="#111" stroke-width="0.8" />
<text x="367.0" y="181.5" font-size="5.24" fill="#333" text-anchor="middle" font-weight="normal" stroke="#333" stroke-width="0.12"  textLength="3.31" lengthAdjust="spacingAndGlyphs">6</text>
<line x1="375.6" y1="170.3" x2="375.6" y2="172.8" stroke="#111" stroke-width="0.8" />
<text x="375.6" y="181.5" font-size="5.24" fill="#333" text-anchor="middle" font-weight="normal" stroke="#333" stroke-width="0.12"  textLength="3.31" lengthAdjust="spacingAndGlyphs">7</text>
<line x1="394.6" y1="170.3" x2="394.6" y2="172.8" stroke="#111" stroke-width="0.8" />
<text x="394.6" y="181.5" font-size="5.24" fill="#333" text-anchor="middle" font-weight="normal" stroke="#333" stroke-width="0.12"  textLength="3.31" lengthAdjust="spacingAndGlyphs">4</text>
<line x1="402.4" y1="170.3" x2="402.4" y2="172.8" stroke="#111" stroke-width="0.8" />
<text x="402.4" y="181.5" font-size="5.24" fill="#333" text-anchor="middle" font-weight="normal" stroke="#333" stroke-width="0.12"  textLength="3.31" lengthAdjust="spacingAndGlyphs">5</text>
<line x1="410.0" y1="170.3" x2="410.0" y2="172.8" stroke="#111" stroke-width="0.8" />
<text x="410.0" y="181.5" font-size="5.24" fill="#333" text-anchor="middle" font-weight="normal" stroke="#333" stroke-width="0.12"  textLength="3.31" lengthAdjust="spacingAndGlyphs">6</text>
<line x1="417.8" y1="170.3" x2="417.8" y2="172.8" stroke="#111" stroke-width="0.8" />
<text x="417.8" y="181.5" font-size="5.24" fill="#333" text-anchor="middle" font-weight="normal" stroke="#333" stroke-width="0.12"  textLength="3.31" lengthAdjust="spacingAndGlyphs">7</text>
<line x1="425.4" y1="170.3" x2="425.4" y2="172.8" stroke="#111" stroke-width="0.8" />
<text x="425.4" y="181.5" font-size="5.24" fill="#333" text-anchor="middle" font-weight="normal" stroke="#333" stroke-width="0.12"  textLength="3.31" lengthAdjust="spacingAndGlyphs">8</text>
<line x1="436.2" y1="170.3" x2="436.2" y2="172.8" stroke="#111" stroke-width="0.8" />
<text x="436.2" y="181.5" font-size="5.24" fill="#333" text-anchor="middle" font-weight="normal" stroke="#333" stroke-width="0.12"  textLength="3.31" lengthAdjust="spacingAndGlyphs">4</text>
<line x1="443.9" y1="170.3" x2="443.9" y2="172.8" stroke="#111" stroke-width="0.8" />
<text x="443.9" y="181.5" font-size="5.24" fill="#333" text-anchor="middle" font-weight="normal" stroke="#333" stroke-width="0.12"  textLength="3.31" lengthAdjust="spacingAndGlyphs">5</text>
<line x1="451.6" y1="170.3" x2="451.6" y2="172.8" stroke="#111" stroke-width="0.8" />
<text x="451.6" y="181.5" font-size="5.24" fill="#333" text-anchor="middle" font-weight="normal" stroke="#333" stroke-width="0.12"  textLength="3.31" lengthAdjust="spacingAndGlyphs">6</text>
<line x1="459.2" y1="170.3" x2="459.2" y2="172.8" stroke="#111" stroke-width="0.8" />
<text x="459.2" y="181.5" font-size="5.24" fill="#333" text-anchor="middle" font-weight="normal" stroke="#333" stroke-width="0.12"  textLength="3.31" lengthAdjust="spacingAndGlyphs">7</text>
<line x1="466.9" y1="170.3" x2="466.9" y2="172.8" stroke="#111" stroke-width="0.8" />
<text x="466.9" y="181.5" font-size="5.24" fill="#333" text-anchor="middle" font-weight="normal" stroke="#333" stroke-width="0.12"  textLength="3.31" lengthAdjust="spacingAndGlyphs">8</text>
<line x1="477.8" y1="170.3" x2="477.8" y2="172.8" stroke="#111" stroke-width="0.8" />
<text x="477.8" y="181.5" font-size="5.24" fill="#333" text-anchor="middle" font-weight="normal" stroke="#333" stroke-width="0.12"  textLength="3.31" lengthAdjust="spacingAndGlyphs">4</text>
<line x1="485.4" y1="170.3" x2="485.4" y2="172.8" stroke="#111" stroke-width="0.8" />
<text x="485.4" y="181.5" font-size="5.24" fill="#333" text-anchor="middle" font-weight="normal" stroke="#333" stroke-width="0.12"  textLength="3.31" lengthAdjust="spacingAndGlyphs">5</text>
<line x1="493.3" y1="170.3" x2="493.3" y2="172.8" stroke="#111" stroke-width="0.8" />
<text x="493.3" y="181.5" font-size="5.24" fill="#333" text-anchor="middle" font-weight="normal" stroke="#333" stroke-width="0.12"  textLength="3.31" lengthAdjust="spacingAndGlyphs">6</text>
<line x1="500.8" y1="170.3" x2="500.8" y2="172.8" stroke="#111" stroke-width="0.8" />
<text x="500.8" y="181.5" font-size="5.24" fill="#333" text-anchor="middle" font-weight="normal" stroke="#333" stroke-width="0.12"  textLength="3.31" lengthAdjust="spacingAndGlyphs">7</text>
<line x1="508.6" y1="170.3" x2="508.6" y2="172.8" stroke="#111" stroke-width="0.8" />
<text x="508.6" y="181.5" font-size="5.24" fill="#333" text-anchor="middle" font-weight="normal" stroke="#333" stroke-width="0.12"  textLength="3.31" lengthAdjust="spacingAndGlyphs">8</text>
<text x="270.9" y="191.7" font-size="6.53" fill="#333" text-anchor="start" font-weight="normal" stroke="#333" stroke-width="0.12"  textLength="34.23" lengthAdjust="spacingAndGlyphs">WHO Score:</text>
<text x="312.1" y="191.7" font-size="6.42" fill="#333" text-anchor="start" font-weight="normal" stroke="#333" stroke-width="0.12"  textLength="34.85" lengthAdjust="spacingAndGlyphs">4 = Room Air</text>
<text x="353.8" y="191.7" font-size="6.47" fill="#333" text-anchor="start" font-weight="normal" stroke="#333" stroke-width="0.12"  textLength="31.11" lengthAdjust="spacingAndGlyphs">5 = Oxygen</text>
<text x="386.0" y="199.2" font-size="6.42" fill="#333" text-anchor="end" font-weight="normal" stroke="#333" stroke-width="0.12"  textLength="21.51" lengthAdjust="spacingAndGlyphs">&lt;5L/min</text>
<text x="394.0" y="191.7" font-size="6.47" fill="#333" text-anchor="start" font-weight="normal" stroke="#333" stroke-width="0.12"  textLength="31.11" lengthAdjust="spacingAndGlyphs">6 = Oxygen</text>
<text x="425.2" y="199.2" font-size="6.42" fill="#333" text-anchor="end" font-weight="normal" stroke="#333" stroke-width="0.12"  textLength="21.30" lengthAdjust="spacingAndGlyphs">≥5L/min</text>
<text x="432.7" y="191.7" font-size="6.26" fill="#333" text-anchor="start" font-weight="normal" stroke="#333" stroke-width="0.12"  textLength="39.51" lengthAdjust="spacingAndGlyphs">7 = Mechanical</text>
<text x="471.7" y="199.2" font-size="6.42" fill="#333" text-anchor="end" font-weight="normal" stroke="#333" stroke-width="0.12"  textLength="27.69" lengthAdjust="spacingAndGlyphs">Ventilation</text>
<text x="479.0" y="191.7" font-size="6.53" fill="#333" text-anchor="start" font-weight="normal" stroke="#333" stroke-width="0.12"  textLength="26.62" lengthAdjust="spacingAndGlyphs">8 = Death</text>
<path d="M300.0,50.7V49.5H374.6V50.7" fill="none" stroke="#6a6a6a" stroke-width="0.9"/>
<ellipse cx="337.30" cy="45.60" rx="1.5" ry="1.8" fill="#383838" transform="rotate(20 337.30 45.60)"/>
<path d="M283.5,58.7V57.5H358.7V58.7" fill="none" stroke="#6a6a6a" stroke-width="0.9"/>
<ellipse cx="314.65" cy="53.80" rx="1.5" ry="1.8" fill="#383838" transform="rotate(20 314.65 53.80)"/>
<ellipse cx="318.95" cy="53.80" rx="1.5" ry="1.8" fill="#383838" transform="rotate(20 318.95 53.80)"/>
<ellipse cx="323.25" cy="53.80" rx="1.5" ry="1.8" fill="#383838" transform="rotate(20 323.25 53.80)"/>
<ellipse cx="327.55" cy="53.80" rx="1.5" ry="1.8" fill="#383838" transform="rotate(20 327.55 53.80)"/>
<path d="M275.2,66.7V65.5H349.6V66.7" fill="none" stroke="#6a6a6a" stroke-width="0.9"/>
<ellipse cx="310.25" cy="61.70" rx="1.5" ry="1.8" fill="#383838" transform="rotate(20 310.25 61.70)"/>
<ellipse cx="314.55" cy="61.70" rx="1.5" ry="1.8" fill="#383838" transform="rotate(20 314.55 61.70)"/>
<path d="M275.2,71.7V70.5H301.3V71.7" fill="none" stroke="#6a6a6a" stroke-width="0.9"/>
<text x="288.25" y="71.2" font-size="5.99" fill="#333" text-anchor="middle" font-weight="bold" letter-spacing="0.3" textLength="6.54" lengthAdjust="spacingAndGlyphs">***</text>
<path d="M275.2,75.7V74.5H292.7V75.7" fill="none" stroke="#6a6a6a" stroke-width="0.9"/>
<text x="283.95" y="75.2" font-size="5.99" fill="#333" text-anchor="middle" font-weight="bold" letter-spacing="0.3" textLength="2.18" lengthAdjust="spacingAndGlyphs">*</text>
<path d="M284.0,84.7V83.5H301.1V84.7" fill="none" stroke="#6a6a6a" stroke-width="0.9"/>
<text x="292.55" y="84.2" font-size="5.99" fill="#333" text-anchor="middle" font-weight="bold" letter-spacing="0.3" textLength="4.36" lengthAdjust="spacingAndGlyphs">**</text>
<path d="M284.0,89.7V88.5H292.7V89.7" fill="none" stroke="#6a6a6a" stroke-width="0.9"/>
<text x="288.35" y="89.2" font-size="5.99" fill="#333" text-anchor="middle" font-weight="bold" letter-spacing="0.3" textLength="2.18" lengthAdjust="spacingAndGlyphs">*</text>
<path d="M348.6,81.7V80.5H375.5V81.7" fill="none" stroke="#6a6a6a" stroke-width="0.9"/>
<text x="362.05" y="81.2" font-size="5.99" fill="#333" text-anchor="middle" font-weight="bold" letter-spacing="0.3" textLength="8.72" lengthAdjust="spacingAndGlyphs">****</text>
<path d="M358.4,87.7V86.5H375.5V87.7" fill="none" stroke="#6a6a6a" stroke-width="0.9"/>
<text x="366.95" y="87.2" font-size="5.99" fill="#333" text-anchor="middle" font-weight="bold" letter-spacing="0.3" textLength="6.54" lengthAdjust="spacingAndGlyphs">***</text>
<path d="M348.6,92.7V91.5H367.2V92.7" fill="none" stroke="#6a6a6a" stroke-width="0.9"/>
<text x="357.9" y="92.2" font-size="5.99" fill="#333" text-anchor="middle" font-weight="bold" letter-spacing="0.3" textLength="2.18" lengthAdjust="spacingAndGlyphs">*</text>
<path d="M425.3,55.7V54.5H508.6V55.7" fill="none" stroke="#6a6a6a" stroke-width="0.9"/>
<ellipse cx="466.95" cy="51.80" rx="1.5" ry="1.8" fill="#383838" transform="rotate(20 466.95 51.80)"/>
<path d="M410.2,62.7V61.5H493.4V62.7" fill="none" stroke="#6a6a6a" stroke-width="0.9"/>
<ellipse cx="451.80" cy="58.90" rx="1.5" ry="1.8" fill="#383838" transform="rotate(20 451.80 58.90)"/>
<path d="M402.4,69.7V68.5H485.5V69.7" fill="none" stroke="#6a6a6a" stroke-width="0.9"/>
<ellipse cx="437.50" cy="65.70" rx="1.5" ry="1.8" fill="#383838" transform="rotate(20 437.50 65.70)"/>
<ellipse cx="441.80" cy="65.70" rx="1.5" ry="1.8" fill="#383838" transform="rotate(20 441.80 65.70)"/>
<ellipse cx="446.10" cy="65.70" rx="1.5" ry="1.8" fill="#383838" transform="rotate(20 446.10 65.70)"/>
<ellipse cx="450.40" cy="65.70" rx="1.5" ry="1.8" fill="#383838" transform="rotate(20 450.40 65.70)"/>
<path d="M394.6,75.7V74.5H477.7V75.7" fill="none" stroke="#6a6a6a" stroke-width="0.9"/>
<ellipse cx="436.15" cy="72.60" rx="1.5" ry="1.8" fill="#383838" transform="rotate(20 436.15 72.60)"/>
<path d="M394.6,82.7V81.5H425.6V82.7" fill="none" stroke="#6a6a6a" stroke-width="0.9"/>
<text x="410.1" y="82.2" font-size="5.99" fill="#333" text-anchor="middle" font-weight="bold" letter-spacing="0.3" textLength="6.54" lengthAdjust="spacingAndGlyphs">***</text>
<path d="M402.4,87.7V86.5H425.6V87.7" fill="none" stroke="#6a6a6a" stroke-width="0.9"/>
<text x="414.0" y="87.2" font-size="5.99" fill="#333" text-anchor="middle" font-weight="bold" letter-spacing="0.3" textLength="4.36" lengthAdjust="spacingAndGlyphs">**</text>
<path d="M394.6,93.7V92.5H417.8V93.7" fill="none" stroke="#6a6a6a" stroke-width="0.9"/>
<text x="406.2" y="93.2" font-size="5.99" fill="#333" text-anchor="middle" font-weight="bold" letter-spacing="0.3" textLength="2.18" lengthAdjust="spacingAndGlyphs">*</text>
<path d="M477.7,89.7V88.5H508.7V89.7" fill="none" stroke="#6a6a6a" stroke-width="0.9"/>
<text x="493.2" y="89.2" font-size="5.99" fill="#333" text-anchor="middle" font-weight="bold" letter-spacing="0.3" textLength="8.72" lengthAdjust="spacingAndGlyphs">****</text>
<path d="M485.5,94.7V93.5H508.7V94.7" fill="none" stroke="#6a6a6a" stroke-width="0.9"/>
<text x="497.1" y="94.2" font-size="5.99" fill="#333" text-anchor="middle" font-weight="bold" letter-spacing="0.3" textLength="4.36" lengthAdjust="spacingAndGlyphs">**</text>
<path d="M492.9,100.7V99.5H508.7V100.7" fill="none" stroke="#6a6a6a" stroke-width="0.9"/>
<text x="500.8" y="100.2" font-size="5.99" fill="#333" text-anchor="middle" font-weight="bold" letter-spacing="0.3" textLength="2.18" lengthAdjust="spacingAndGlyphs">*</text>
<path d="M477.7,116.7V115.5H500.9V116.7" fill="none" stroke="#6a6a6a" stroke-width="0.9"/>
<text x="489.3" y="116.2" font-size="5.99" fill="#333" text-anchor="middle" font-weight="bold" letter-spacing="0.3" textLength="4.36" lengthAdjust="spacingAndGlyphs">**</text>
<rect x="99.4" y="231.4" width="124.6" height="10.099999999999994" fill="#c9c9cd" stroke="#2a2a2a" stroke-width="1" />
<text x="161.7" y="238.05" font-size="6.53" fill="#222" stroke="#222" stroke-width="0.1" text-anchor="middle" textLength="66.62" lengthAdjust="spacingAndGlyphs">Mortality (<tspan font-style="italic">n</tspan> = 35, 16.1%)</text>
<rect x="99.4" y="241.5" width="124.6" height="71.10000000000002" fill="#fff" stroke="#2a2a2a" stroke-width="1" />
<line x1="96.6" y1="255.6" x2="99.4" y2="255.6" stroke="#222" stroke-width="0.9" />
<line x1="96.6" y1="277.5" x2="99.4" y2="277.5" stroke="#222" stroke-width="0.9" />
<line x1="96.6" y1="299.3" x2="99.4" y2="299.3" stroke="#222" stroke-width="0.9" />
<rect x="112.1" y="298.1" width="8" height="8" fill="#c8c8c8" stroke="none" stroke-width="1" />
<rect x="122.7" y="275.7" width="8.6" height="8.6" fill="none" stroke="#f09a2c" stroke-width="1.15" />
<line x1="119.1" y1="280.0" x2="138.5" y2="280.0" stroke="#333" stroke-width="0.9" />
<line x1="127.4" y1="257.7" x2="152.2" y2="257.7" stroke="#222" stroke-width="0.9" />
<rect x="133.2" y="253.6" width="8.4" height="8.2" fill="#c8102e" stroke="none" stroke-width="1" />
<line x1="123.7" y1="242.5" x2="123.7" y2="312.1" stroke="#000" stroke-width="1.2" stroke-dasharray="1.2 1.8"/>
<rect x="227.0" y="231.4" width="124.6" height="10.099999999999994" fill="#c9c9cd" stroke="#2a2a2a" stroke-width="1" />
<text x="289.3" y="238.05" font-size="6.53" fill="#222" stroke="#222" stroke-width="0.1" text-anchor="middle" textLength="80.18" lengthAdjust="spacingAndGlyphs">ICU Admission (<tspan font-style="italic">n</tspan> = 19, 8.7%)</text>
<rect x="227.0" y="241.5" width="124.6" height="71.10000000000002" fill="#fff" stroke="#2a2a2a" stroke-width="1" />
<line x1="237.0" y1="302.1" x2="246.8" y2="302.1" stroke="#888" stroke-width="0.9" />
<rect x="235.9" y="298.1" width="8.4" height="8" fill="#d4d4d4" stroke="none" stroke-width="1" />
<line x1="242.1" y1="302.1" x2="246.8" y2="302.1" stroke="#888" stroke-width="0.9" />
<rect x="247.0" y="275.7" width="8.6" height="8.6" fill="none" stroke="#f09a2c" stroke-width="1.15" />
<line x1="241.2" y1="280.0" x2="275.9" y2="280.0" stroke="#333" stroke-width="0.9" />
<line x1="251.9" y1="257.7" x2="301.8" y2="257.7" stroke="#222" stroke-width="0.9" />
<rect x="267.1" y="253.6" width="8.4" height="8.2" fill="#c8102e" stroke="none" stroke-width="1" />
<line x1="251.3" y1="242.5" x2="251.3" y2="312.1" stroke="#000" stroke-width="1.2" stroke-dasharray="1.2 1.8"/>
<rect x="354.2" y="231.4" width="124.6" height="10.099999999999994" fill="#c9c9cd" stroke="#2a2a2a" stroke-width="1" />
<text x="416.5" y="238.05" font-size="6.53" fill="#222" stroke="#222" stroke-width="0.1" text-anchor="middle" textLength="96.13" lengthAdjust="spacingAndGlyphs">Acute Kidney Injury (<tspan font-style="italic">n</tspan> = 30, 13.8%)</text>
<rect x="354.2" y="241.5" width="124.6" height="71.10000000000002" fill="#fff" stroke="#2a2a2a" stroke-width="1" />
<line x1="365.0" y1="302.1" x2="376.5" y2="302.1" stroke="#888" stroke-width="0.9" />
<rect x="365.9" y="298.1" width="8.4" height="8" fill="#d4d4d4" stroke="none" stroke-width="1" />
<line x1="372.1" y1="302.1" x2="376.5" y2="302.1" stroke="#888" stroke-width="0.9" />
<rect x="374.3" y="275.7" width="8.6" height="8.6" fill="none" stroke="#f09a2c" stroke-width="1.15" />
<line x1="370.9" y1="280.0" x2="392.5" y2="280.0" stroke="#333" stroke-width="0.9" />
<line x1="380.8" y1="257.7" x2="415.5" y2="257.7" stroke="#222" stroke-width="0.9" />
<rect x="390.4" y="253.6" width="8.4" height="8.2" fill="#c8102e" stroke="none" stroke-width="1" />
<line x1="378.5" y1="242.5" x2="378.5" y2="312.1" stroke="#000" stroke-width="1.2" stroke-dasharray="1.2 1.8"/>
<rect x="99.4" y="315.8" width="124.6" height="10.599999999999966" fill="#c9c9cd" stroke="#2a2a2a" stroke-width="1" />
<text x="161.7" y="322.70" font-size="6.53" fill="#222" stroke="#222" stroke-width="0.1" text-anchor="middle" textLength="90.92" lengthAdjust="spacingAndGlyphs">Thrombotic Event (<tspan font-style="italic">n</tspan> = 25, 11.5%)</text>
<rect x="99.4" y="326.4" width="124.6" height="70.90000000000003" fill="#fff" stroke="#2a2a2a" stroke-width="1" />
<line x1="96.6" y1="340.5" x2="99.4" y2="340.5" stroke="#222" stroke-width="0.9" />
<line x1="96.6" y1="362.4" x2="99.4" y2="362.4" stroke="#222" stroke-width="0.9" />
<line x1="96.6" y1="384.2" x2="99.4" y2="384.2" stroke="#222" stroke-width="0.9" />
<line x1="112.5" y1="387.0" x2="124.0" y2="387.0" stroke="#888" stroke-width="0.9" />
<rect x="112.2" y="382.8" width="9.2" height="8.2" fill="none" stroke="#c8c8c8" stroke-width="1.1" />
<line x1="111.0" y1="387.0" x2="124.0" y2="387.0" stroke="#555" stroke-width="0.9" />
<rect x="115.4" y="360.6" width="8.6" height="8.6" fill="none" stroke="#f09a2c" stroke-width="1.15" />
<line x1="113.0" y1="364.9" x2="132.7" y2="364.9" stroke="#333" stroke-width="0.9" />
<line x1="126.0" y1="342.6" x2="164.4" y2="342.6" stroke="#222" stroke-width="0.9" />
<rect x="136.8" y="338.5" width="8.4" height="8.2" fill="#c8102e" stroke="none" stroke-width="1" />
<line x1="123.7" y1="327.4" x2="123.7" y2="396.8" stroke="#000" stroke-width="1.2" stroke-dasharray="1.2 1.8"/>
<line x1="104.7" y1="397.3" x2="104.7" y2="399.90000000000003" stroke="#222" stroke-width="0.9" />
<text x="104.7" y="408.6" font-size="5.28" fill="#333" text-anchor="middle" font-weight="normal" stroke="#333" stroke-width="0.12"  textLength="3.34" lengthAdjust="spacingAndGlyphs">0</text>
<line x1="114.2" y1="397.3" x2="114.2" y2="399.90000000000003" stroke="#222" stroke-width="0.9" />
<text x="114.2" y="408.6" font-size="5.28" fill="#333" text-anchor="middle" font-weight="normal" stroke="#333" stroke-width="0.12"  textLength="8.34" lengthAdjust="spacingAndGlyphs">0.5</text>
<line x1="123.7" y1="397.3" x2="123.7" y2="399.90000000000003" stroke="#222" stroke-width="0.9" />
<text x="123.7" y="408.6" font-size="5.28" fill="#333" text-anchor="middle" font-weight="normal" stroke="#333" stroke-width="0.12"  textLength="3.34" lengthAdjust="spacingAndGlyphs">1</text>
<line x1="142.7" y1="397.3" x2="142.7" y2="399.90000000000003" stroke="#222" stroke-width="0.9" />
<text x="142.7" y="408.6" font-size="5.28" fill="#333" text-anchor="middle" font-weight="normal" stroke="#333" stroke-width="0.12"  textLength="3.34" lengthAdjust="spacingAndGlyphs">2</text>
<line x1="161.7" y1="397.3" x2="161.7" y2="399.90000000000003" stroke="#222" stroke-width="0.9" />
<text x="161.7" y="408.6" font-size="5.28" fill="#333" text-anchor="middle" font-weight="normal" stroke="#333" stroke-width="0.12"  textLength="3.34" lengthAdjust="spacingAndGlyphs">3</text>
<line x1="180.7" y1="397.3" x2="180.7" y2="399.90000000000003" stroke="#222" stroke-width="0.9" />
<text x="180.7" y="408.6" font-size="5.28" fill="#333" text-anchor="middle" font-weight="normal" stroke="#333" stroke-width="0.12"  textLength="3.34" lengthAdjust="spacingAndGlyphs">4</text>
<line x1="199.7" y1="397.3" x2="199.7" y2="399.90000000000003" stroke="#222" stroke-width="0.9" />
<text x="199.7" y="408.6" font-size="5.28" fill="#333" text-anchor="middle" font-weight="normal" stroke="#333" stroke-width="0.12"  textLength="3.34" lengthAdjust="spacingAndGlyphs">5</text>
<rect x="227.0" y="315.8" width="124.6" height="10.599999999999966" fill="#c9c9cd" stroke="#2a2a2a" stroke-width="1" />
<text x="289.3" y="322.70" font-size="6.53" fill="#222" stroke="#222" stroke-width="0.1" text-anchor="middle" textLength="100.88" lengthAdjust="spacingAndGlyphs">Mechanical Ventilation (<tspan font-style="italic">n</tspan> = 20, 9.2%)</text>
<rect x="227.0" y="326.4" width="124.6" height="70.90000000000003" fill="#fff" stroke="#2a2a2a" stroke-width="1" />
<rect x="232.7" y="383.0" width="8" height="8" fill="#c8c8c8" stroke="none" stroke-width="1" />
<rect x="248.3" y="360.6" width="8.6" height="8.6" fill="none" stroke="#f09a2c" stroke-width="1.15" />
<line x1="241.6" y1="364.9" x2="279.1" y2="364.9" stroke="#333" stroke-width="0.9" />
<line x1="260.4" y1="342.6" x2="337.7" y2="342.6" stroke="#222" stroke-width="0.9" />
<rect x="280.7" y="338.5" width="8.4" height="8.2" fill="#c8102e" stroke="none" stroke-width="1" />
<line x1="251.3" y1="327.4" x2="251.3" y2="396.8" stroke="#000" stroke-width="1.2" stroke-dasharray="1.2 1.8"/>
<line x1="232.3" y1="397.3" x2="232.3" y2="399.90000000000003" stroke="#222" stroke-width="0.9" />
<text x="232.3" y="408.6" font-size="5.28" fill="#333" text-anchor="middle" font-weight="normal" stroke="#333" stroke-width="0.12"  textLength="3.34" lengthAdjust="spacingAndGlyphs">0</text>
<line x1="241.8" y1="397.3" x2="241.8" y2="399.90000000000003" stroke="#222" stroke-width="0.9" />
<text x="241.8" y="408.6" font-size="5.28" fill="#333" text-anchor="middle" font-weight="normal" stroke="#333" stroke-width="0.12"  textLength="8.34" lengthAdjust="spacingAndGlyphs">0.5</text>
<line x1="251.3" y1="397.3" x2="251.3" y2="399.90000000000003" stroke="#222" stroke-width="0.9" />
<text x="251.3" y="408.6" font-size="5.28" fill="#333" text-anchor="middle" font-weight="normal" stroke="#333" stroke-width="0.12"  textLength="3.34" lengthAdjust="spacingAndGlyphs">1</text>
<line x1="270.3" y1="397.3" x2="270.3" y2="399.90000000000003" stroke="#222" stroke-width="0.9" />
<text x="270.3" y="408.6" font-size="5.28" fill="#333" text-anchor="middle" font-weight="normal" stroke="#333" stroke-width="0.12"  textLength="3.34" lengthAdjust="spacingAndGlyphs">2</text>
<line x1="289.3" y1="397.3" x2="289.3" y2="399.90000000000003" stroke="#222" stroke-width="0.9" />
<text x="289.3" y="408.6" font-size="5.28" fill="#333" text-anchor="middle" font-weight="normal" stroke="#333" stroke-width="0.12"  textLength="3.34" lengthAdjust="spacingAndGlyphs">3</text>
<line x1="308.3" y1="397.3" x2="308.3" y2="399.90000000000003" stroke="#222" stroke-width="0.9" />
<text x="308.3" y="408.6" font-size="5.28" fill="#333" text-anchor="middle" font-weight="normal" stroke="#333" stroke-width="0.12"  textLength="3.34" lengthAdjust="spacingAndGlyphs">4</text>
<line x1="327.3" y1="397.3" x2="327.3" y2="399.90000000000003" stroke="#222" stroke-width="0.9" />
<text x="327.3" y="408.6" font-size="5.28" fill="#333" text-anchor="middle" font-weight="normal" stroke="#333" stroke-width="0.12"  textLength="3.34" lengthAdjust="spacingAndGlyphs">5</text>
<rect x="354.2" y="315.8" width="124.6" height="10.599999999999966" fill="#c9c9cd" stroke="#2a2a2a" stroke-width="1" />
<text x="416.5" y="322.70" font-size="6.53" fill="#222" stroke="#222" stroke-width="0.1" text-anchor="middle" textLength="95.10" lengthAdjust="spacingAndGlyphs">Respiratory Failure (<tspan font-style="italic">n</tspan> = 70, 32.1%)</text>
<rect x="354.2" y="326.4" width="124.6" height="70.90000000000003" fill="#fff" stroke="#2a2a2a" stroke-width="1" />
<line x1="363.8" y1="387.0" x2="375.4" y2="387.0" stroke="#888" stroke-width="0.9" />
<rect x="364.5" y="383.0" width="8.4" height="8" fill="#d4d4d4" stroke="none" stroke-width="1" />
<line x1="370.7" y1="387.0" x2="375.4" y2="387.0" stroke="#888" stroke-width="0.9" />
<rect x="370.2" y="360.6" width="8.6" height="8.6" fill="none" stroke="#f09a2c" stroke-width="1.15" />
<line x1="368.7" y1="364.9" x2="385.2" y2="364.9" stroke="#333" stroke-width="0.9" />
<line x1="388.9" y1="342.6" x2="441.7" y2="342.6" stroke="#222" stroke-width="0.9" />
<rect x="401.5" y="338.5" width="8.4" height="8.2" fill="#c8102e" stroke="none" stroke-width="1" />
<line x1="378.5" y1="327.4" x2="378.5" y2="396.8" stroke="#000" stroke-width="1.2" stroke-dasharray="1.2 1.8"/>
<line x1="359.5" y1="397.3" x2="359.5" y2="399.90000000000003" stroke="#222" stroke-width="0.9" />
<text x="359.5" y="408.6" font-size="5.28" fill="#333" text-anchor="middle" font-weight="normal" stroke="#333" stroke-width="0.12"  textLength="3.34" lengthAdjust="spacingAndGlyphs">0</text>
<line x1="369.0" y1="397.3" x2="369.0" y2="399.90000000000003" stroke="#222" stroke-width="0.9" />
<text x="369.0" y="408.6" font-size="5.28" fill="#333" text-anchor="middle" font-weight="normal" stroke="#333" stroke-width="0.12"  textLength="8.34" lengthAdjust="spacingAndGlyphs">0.5</text>
<line x1="378.5" y1="397.3" x2="378.5" y2="399.90000000000003" stroke="#222" stroke-width="0.9" />
<text x="378.5" y="408.6" font-size="5.28" fill="#333" text-anchor="middle" font-weight="normal" stroke="#333" stroke-width="0.12"  textLength="3.34" lengthAdjust="spacingAndGlyphs">1</text>
<line x1="397.5" y1="397.3" x2="397.5" y2="399.90000000000003" stroke="#222" stroke-width="0.9" />
<text x="397.5" y="408.6" font-size="5.28" fill="#333" text-anchor="middle" font-weight="normal" stroke="#333" stroke-width="0.12"  textLength="3.34" lengthAdjust="spacingAndGlyphs">2</text>
<line x1="416.5" y1="397.3" x2="416.5" y2="399.90000000000003" stroke="#222" stroke-width="0.9" />
<text x="416.5" y="408.6" font-size="5.28" fill="#333" text-anchor="middle" font-weight="normal" stroke="#333" stroke-width="0.12"  textLength="3.34" lengthAdjust="spacingAndGlyphs">3</text>
<line x1="435.5" y1="397.3" x2="435.5" y2="399.90000000000003" stroke="#222" stroke-width="0.9" />
<text x="435.5" y="408.6" font-size="5.28" fill="#333" text-anchor="middle" font-weight="normal" stroke="#333" stroke-width="0.12"  textLength="3.34" lengthAdjust="spacingAndGlyphs">4</text>
<line x1="454.5" y1="397.3" x2="454.5" y2="399.90000000000003" stroke="#222" stroke-width="0.9" />
<text x="454.5" y="408.6" font-size="5.28" fill="#333" text-anchor="middle" font-weight="normal" stroke="#333" stroke-width="0.12"  textLength="3.34" lengthAdjust="spacingAndGlyphs">5</text>
<text x="52.3" y="253.2" font-size="6.3" fill="#3a3a3a" text-anchor="start" font-weight="normal" stroke="#3a3a3a" stroke-width="0.12" textLength="40.5" lengthAdjust="spacingAndGlyphs">S100A8/A9(+)</text>
<text x="52.3" y="261.7" font-size="6.3" fill="#3a3a3a" text-anchor="start" font-weight="normal" stroke="#3a3a3a" stroke-width="0.12" textLength="41.3" lengthAdjust="spacingAndGlyphs">Spike(+) Model</text>
<text x="52.3" y="275.1" font-size="6.3" fill="#3a3a3a" text-anchor="start" font-weight="normal" stroke="#3a3a3a" stroke-width="0.12" textLength="40.5" lengthAdjust="spacingAndGlyphs">S100A8/A9(+)</text>
<text x="52.3" y="283.6" font-size="6.3" fill="#3a3a3a" text-anchor="start" font-weight="normal" stroke="#3a3a3a" stroke-width="0.12" textLength="41.3" lengthAdjust="spacingAndGlyphs">Spike(−) Model</text>
<text x="52.3" y="297.0" font-size="6.3" fill="#3a3a3a" text-anchor="start" font-weight="normal" stroke="#3a3a3a" stroke-width="0.12" textLength="40.5" lengthAdjust="spacingAndGlyphs">S100A8/A9(−)</text>
<text x="52.3" y="305.5" font-size="6.3" fill="#3a3a3a" text-anchor="start" font-weight="normal" stroke="#3a3a3a" stroke-width="0.12" textLength="41.3" lengthAdjust="spacingAndGlyphs">Spike(−) Model</text>
<text x="52.3" y="338.1" font-size="6.3" fill="#3a3a3a" text-anchor="start" font-weight="normal" stroke="#3a3a3a" stroke-width="0.12" textLength="40.5" lengthAdjust="spacingAndGlyphs">S100A8/A9(+)</text>
<text x="52.3" y="346.6" font-size="6.3" fill="#3a3a3a" text-anchor="start" font-weight="normal" stroke="#3a3a3a" stroke-width="0.12" textLength="41.3" lengthAdjust="spacingAndGlyphs">Spike(+) Model</text>
<text x="52.3" y="360.0" font-size="6.3" fill="#3a3a3a" text-anchor="start" font-weight="normal" stroke="#3a3a3a" stroke-width="0.12" textLength="40.5" lengthAdjust="spacingAndGlyphs">S100A8/A9(+)</text>
<text x="52.3" y="368.5" font-size="6.3" fill="#3a3a3a" text-anchor="start" font-weight="normal" stroke="#3a3a3a" stroke-width="0.12" textLength="41.3" lengthAdjust="spacingAndGlyphs">Spike(−) Model</text>
<text x="52.3" y="381.9" font-size="6.3" fill="#3a3a3a" text-anchor="start" font-weight="normal" stroke="#3a3a3a" stroke-width="0.12" textLength="40.5" lengthAdjust="spacingAndGlyphs">S100A8/A9(−)</text>
<text x="52.3" y="390.4" font-size="6.3" fill="#3a3a3a" text-anchor="start" font-weight="normal" stroke="#3a3a3a" stroke-width="0.12" textLength="41.3" lengthAdjust="spacingAndGlyphs">Spike(−) Model</text>
<text x="287.1" y="419.5" font-size="6.8" fill="#111" text-anchor="middle" font-weight="normal" stroke="#111" stroke-width="0.3" transform="translate(287.1,0) scale(0.7986,1) translate(-287.1,0)">Adjusted odds ratio for 30-day outcome, (95% CI)</text>
<text x="136.8" y="436.4" font-size="5.99" fill="#333" text-anchor="start" font-weight="normal" stroke="#333" stroke-width="0.12"  textLength="37.97" lengthAdjust="spacingAndGlyphs">Megakaryocyte</text>
<text x="136.8" y="443.4" font-size="5.99" fill="#333" text-anchor="start" font-weight="normal" stroke="#333" stroke-width="0.12"  textLength="26.47" lengthAdjust="spacingAndGlyphs">Population</text>
<text x="136.8" y="450.2" font-size="5.99" fill="#333" text-anchor="start" font-weight="normal" stroke="#333" stroke-width="0.12"  textLength="47.31" lengthAdjust="spacingAndGlyphs">(per 20% increase)</text>
<rect x="188.0" y="431.6" width="4.4" height="4.4" fill="#c8c8c8" stroke="none" stroke-width="1" />
<text x="197.0" y="435.5" font-size="6.1" fill="#333" text-anchor="start" font-weight="normal" stroke="#333" stroke-width="0.12"  textLength="58.93" lengthAdjust="spacingAndGlyphs">S100A8/A9(−) Spike(−)</text>
<rect x="265.5" y="431.6" width="4.5" height="4.5" fill="#f7941d" stroke="none" stroke-width="1" />
<text x="273.8" y="435.5" font-size="6.1" fill="#333" text-anchor="start" font-weight="normal" stroke="#333" stroke-width="0.12"  textLength="58.93" lengthAdjust="spacingAndGlyphs">S100A8/A9(+) Spike(−)</text>
<rect x="342.3" y="431.6" width="4.6" height="4.6" fill="#c8102e" stroke="none" stroke-width="1" />
<text x="350.5" y="435.5" font-size="6.1" fill="#333" text-anchor="start" font-weight="normal" stroke="#333" stroke-width="0.12"  textLength="58.93" lengthAdjust="spacingAndGlyphs">S100A8/A9(+) Spike(+)</text>
<line x1="188" y1="441.3" x2="410.5" y2="441.3" stroke="#333" stroke-width="0.9" />
<rect x="251.5" y="447.2" width="4.8" height="4.8" fill="#111" stroke="none" stroke-width="1" />
<text x="260.5" y="451.4" font-size="5.7" fill="#333" stroke="#333" stroke-width="0.2"><tspan font-style="italic">P</tspan>-value &lt; .05</text>
<rect x="303.6" y="447.3" width="4.8" height="4.8" fill="none" stroke="#111" stroke-width="1" />
<text x="312.5" y="451.4" font-size="6.1" fill="#333" text-anchor="start" font-weight="normal" stroke="#333" stroke-width="0.12"  textLength="36.76" lengthAdjust="spacingAndGlyphs">non-significant</text>
</svg>
</body></html>
